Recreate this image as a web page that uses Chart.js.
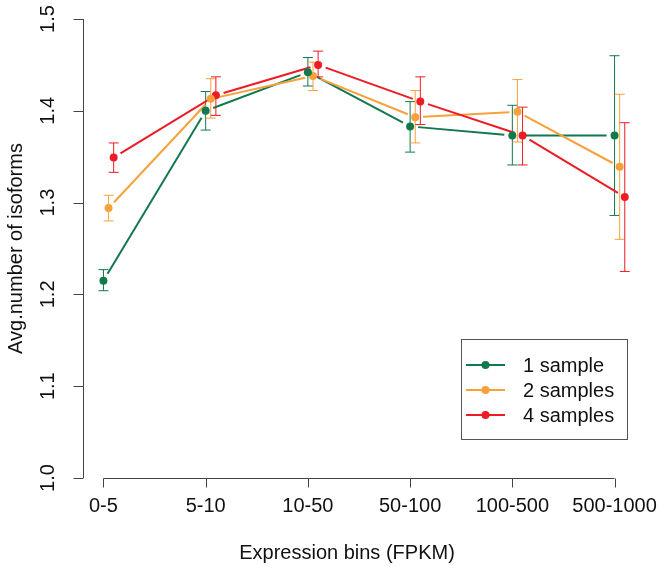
<!DOCTYPE html>
<html lang="en">
<head>
  <meta charset="UTF-8" />
  <title>Avg. number of isoforms by expression bin</title>
  <script src="https://cdn.jsdelivr.net/npm/chart.js"></script>
  <style>
    body { margin: 0; background: #fff; }
    #chart { display: block; }
  </style>
</head>
<body>
  <canvas id="chart" width="664" height="580"></canvas>

  <script>
    const bins = ['0-5', '5-10', '10-50', '50-100', '100-500', '500-1000'];
    const yTicks = [1.0, 1.1, 1.2, 1.3, 1.4, 1.5];
    const seriesNames = ['1 sample', '2 samples', '4 samples'];
    const seriesColors = ['#11794d', '#f7a13b', '#ec1c24'];
    const xShift = [0, 0.05, 0.1];

    const oneSample      = [1.215, 1.400, 1.442, 1.383, 1.373, 1.373];
    const oneSampleLow   = [1.204, 1.379, 1.427, 1.355, 1.341, 1.286];
    const oneSampleHigh  = [1.227, 1.421, 1.458, 1.410, 1.406, 1.460];

    const twoSamples     = [1.294, 1.413, 1.438, 1.393, 1.399, 1.339];
    const twoSamplesLow  = [1.280, 1.392, 1.422, 1.365, 1.366, 1.260];
    const twoSamplesHigh = [1.308, 1.435, 1.453, 1.422, 1.434, 1.418];

    const fourSamples     = [1.349, 1.417, 1.450, 1.410, 1.373, 1.306];
    const fourSamplesLow  = [1.333, 1.395, 1.437, 1.385, 1.341, 1.225];
    const fourSamplesHigh = [1.365, 1.437, 1.465, 1.437, 1.404, 1.387];

    const means = [oneSample, twoSamples, fourSamples];
    const lows = [oneSampleLow, twoSamplesLow, fourSamplesLow];
    const highs = [oneSampleHigh, twoSamplesHigh, fourSamplesHigh];

    const FONT = '"Liberation Sans", Arial, sans-serif';
    const AXIS_COLOR = '#444';

    const datasets = seriesNames.map((name, s) => ({
      label: name,
      data: means[s].map((v, i) => ({ x: i + xShift[s], y: v, lo: lows[s][i], hi: highs[s][i] })),
      showLine: false,
      pointRadius: 4,
      pointHoverRadius: 4,
      pointBackgroundColor: seriesColors[s],
      pointBorderColor: seriesColors[s],
      pointBorderWidth: 0,
      borderColor: seriesColors[s]
    }));

    // lines with gaps around points (R type="b") and error bars
    const linesAndBars = {
      id: 'linesAndBars',
      beforeDatasetsDraw(chart) {
        const ctx = chart.ctx;
        const xs = chart.scales.x, ys = chart.scales.y;
        const gap = 8, cap = 5;
        chart.data.datasets.forEach(ds => {
          const pts = ds.data.map(d => ({
            x: xs.getPixelForValue(d.x), y: ys.getPixelForValue(d.y),
            lo: ys.getPixelForValue(d.lo), hi: ys.getPixelForValue(d.hi)
          }));
          ctx.save();
          ctx.strokeStyle = ds.borderColor;
          ctx.lineWidth = 2;
          ctx.lineCap = 'butt';
          for (let i = 0; i < pts.length - 1; i++) {
            const a = pts[i], b = pts[i + 1];
            const dx = b.x - a.x, dy = b.y - a.y;
            const len = Math.hypot(dx, dy);
            const ux = dx / len, uy = dy / len;
            ctx.beginPath();
            ctx.moveTo(a.x + ux * gap, a.y + uy * gap);
            ctx.lineTo(b.x - ux * gap, b.y - uy * gap);
            ctx.stroke();
          }
          ctx.lineWidth = 1;
          pts.forEach(p => {
            ctx.beginPath();
            ctx.moveTo(p.x, p.hi); ctx.lineTo(p.x, p.lo);
            ctx.moveTo(p.x - cap, p.hi); ctx.lineTo(p.x + cap, p.hi);
            ctx.moveTo(p.x - cap, p.lo); ctx.lineTo(p.x + cap, p.lo);
            ctx.stroke();
          });
          ctx.restore();
        });
      }
    };

    // R-style detached axes, titles and legend box
    const rAxes = {
      id: 'rAxes',
      afterDraw(chart) {
        const ctx = chart.ctx;
        const xs = chart.scales.x, ys = chart.scales.y;
        const area = chart.chartArea;
        ctx.save();
        ctx.strokeStyle = AXIS_COLOR;
        ctx.lineWidth = 1;
        ctx.fillStyle = '#111';

        // y axis
        const yTop = ys.getPixelForValue(yTicks[yTicks.length - 1]);
        const yBot = ys.getPixelForValue(yTicks[0]);
        const ax = Math.round(area.left) + 0.5;
        ctx.beginPath();
        ctx.moveTo(ax, yTop); ctx.lineTo(ax, yBot);
        yTicks.forEach(t => {
          const py = Math.round(ys.getPixelForValue(t)) + 0.5;
          ctx.moveTo(ax, py); ctx.lineTo(ax - 10, py);
        });
        ctx.stroke();
        ctx.font = '20px ' + FONT;
        ctx.textAlign = 'center';
        ctx.textBaseline = 'middle';
        yTicks.forEach(t => {
          const py = ys.getPixelForValue(t);
          ctx.save();
          ctx.translate(48, py);
          ctx.rotate(-Math.PI / 2);
          ctx.fillText(t.toFixed(1), 0, 0);
          ctx.restore();
        });
        ctx.save();
        ctx.font = '20px ' + FONT;
        ctx.translate(16, (area.top + area.bottom) / 2);
        ctx.rotate(-Math.PI / 2);
        ctx.fillText('Avg.number of isoforms', 0, 0);
        ctx.restore();

        // x axis
        const ay = Math.round(area.bottom) + 0.5;
        const xFirst = xs.getPixelForValue(0);
        const xLast = xs.getPixelForValue(bins.length - 1);
        ctx.beginPath();
        ctx.moveTo(xFirst, ay); ctx.lineTo(xLast, ay);
        bins.forEach((b, i) => {
          const px = Math.round(xs.getPixelForValue(i)) + 0.5;
          ctx.moveTo(px, ay); ctx.lineTo(px, ay + 9);
        });
        ctx.stroke();
        ctx.font = '20px ' + FONT;
        bins.forEach((b, i) => {
          ctx.fillText(b, xs.getPixelForValue(i), 506);
        });
        ctx.fillText('Expression bins (FPKM)', 347, 553);

        // legend
        const lx = 461.5, ly = 339.5, lw = 166, lh = 100;
        ctx.strokeStyle = '#555';
        ctx.strokeRect(lx, ly, lw, lh);
        ctx.textAlign = 'left';
        ctx.font = '20px ' + FONT;
        seriesNames.forEach((name, s) => {
          const ry = 365 + s * 25;
          ctx.strokeStyle = seriesColors[s];
          ctx.fillStyle = seriesColors[s];
          ctx.lineWidth = 2;
          ctx.beginPath();
          ctx.moveTo(466, ry); ctx.lineTo(505, ry);
          ctx.stroke();
          ctx.beginPath();
          ctx.arc(485.5, ry, 4, 0, Math.PI * 2);
          ctx.fill();
          ctx.fillStyle = '#111';
          ctx.fillText(name, 523, ry + 1);
        });
        ctx.restore();
      }
    };

    new Chart(document.getElementById('chart').getContext('2d'), {
      type: 'scatter',
      data: { datasets },
      options: {
        responsive: false,
        animation: false,
        layout: { padding: { left: 83, right: 29, top: 19, bottom: 102 } },
        scales: {
          x: { type: 'linear', min: -0.2, max: 5.2, display: false },
          y: { type: 'linear', min: 1.0, max: 1.5, display: false }
        },
        plugins: {
          legend: { display: false },
          tooltip: { enabled: false }
        }
      },
      plugins: [linesAndBars, rAxes]
    });
  </script>
</body>
</html>
